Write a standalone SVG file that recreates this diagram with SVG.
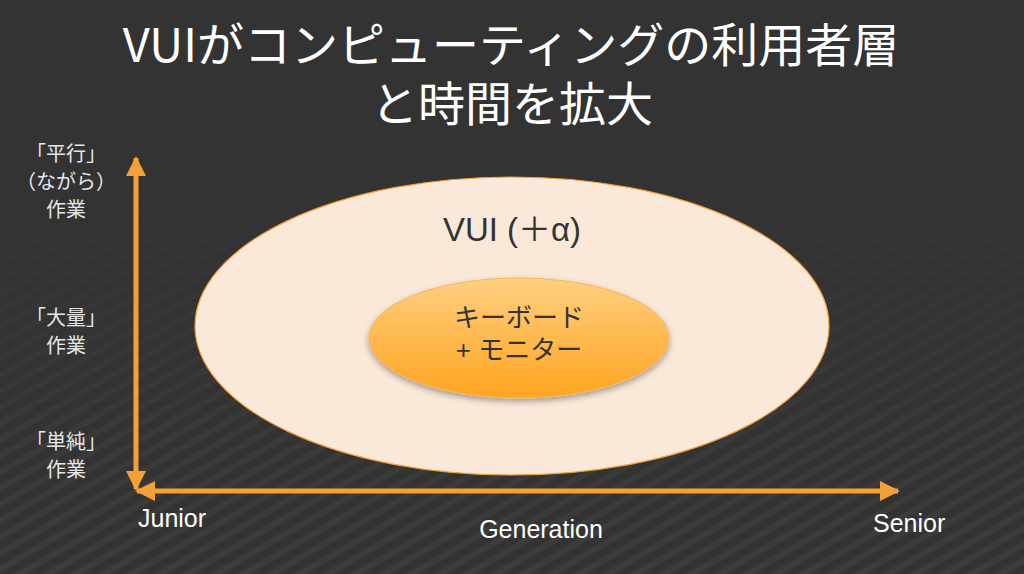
<svg xmlns="http://www.w3.org/2000/svg" width="1024" height="574" viewBox="0 0 1024 574">
<style>
.t{font-family:"Noto Sans CJK JP","Liberation Sans",sans-serif;fill:#ffffff;text-anchor:middle}
.l{font-family:"Noto Sans CJK JP","Liberation Sans",sans-serif;fill:#e6e6e6;text-anchor:middle;font-size:20px}
.e{font-family:"Liberation Sans","Noto Sans CJK JP",sans-serif;fill:#ffffff;font-size:25px}
.d{font-family:"Liberation Sans","Noto Sans CJK JP",sans-serif;fill:#333333;text-anchor:middle}
.ax{stroke:#F4A038;stroke-width:5;fill:none}
</style>
<defs>
<pattern id="stripes" width="14" height="14" patternUnits="userSpaceOnUse" patternTransform="rotate(-30)">
<rect width="14" height="14" fill="#333333"/>
<rect y="0" width="14" height="6" fill="#3d3d3d"/>
</pattern>
<linearGradient id="fade" x1="0" y1="0" x2="0" y2="1">
<stop offset="0.3" stop-color="#fff" stop-opacity="0"/>
<stop offset="1" stop-color="#fff" stop-opacity="1"/>
</linearGradient>
<mask id="m"><rect width="1024" height="574" fill="url(#fade)"/></mask>
<linearGradient id="inner" x1="0" y1="0" x2="0" y2="1">
<stop offset="0" stop-color="#FFCF80"/>
<stop offset="1" stop-color="#FFA41F"/>
</linearGradient>
<filter id="sh" x="-20%" y="-20%" width="140%" height="150%">
<feDropShadow dx="0" dy="3" stdDeviation="3" flood-color="#000" flood-opacity="0.35"/>
</filter>
<marker id="ah" viewBox="0 0 10 10" refX="9" refY="5" markerWidth="4.4" markerHeight="4" orient="auto-start-reverse" markerUnits="strokeWidth">
<path d="M0,0 L10,5 L0,10 z" fill="#F4A038"/>
</marker>
</defs>
<rect width="1024" height="574" fill="#333333"/>
<rect width="1024" height="574" fill="url(#stripes)" mask="url(#m)"/>

<g id="title">
<text class="t" x="511" y="62" font-size="47">VUIがコンピューティングの利用者層</text>
<text class="t" x="512" y="121" font-size="47">と時間を拡大</text>
</g>

<g id="outer">
<ellipse cx="512" cy="326" rx="317" ry="149" fill="#FAE8D8" stroke="#F4A038" stroke-width="1.2"/>
<text class="d" x="512" y="241" font-size="33">VUI (＋α)</text>
</g>

<g id="inner-node">
<ellipse cx="519" cy="338" rx="150" ry="60" fill="url(#inner)" stroke="#F7B460" stroke-width="1" filter="url(#sh)"/>
<text class="d" x="519" y="327" font-size="26">キーボード</text>
<text class="d" x="519" y="359" font-size="26">+ モニター</text>
</g>

<g id="connectors">
<line class="ax" x1="136" y1="489" x2="136" y2="158" marker-start="url(#ah)" marker-end="url(#ah)"/>
<line class="ax" x1="137" y1="491" x2="898" y2="491" marker-start="url(#ah)" marker-end="url(#ah)"/>
</g>

<g id="ylabels">
<text class="l" x="66" y="161">「平行」</text>
<text class="l" x="66" y="189">（ながら）</text>
<text class="l" x="66" y="217">作業</text>
<text class="l" x="66" y="325">「大量」</text>
<text class="l" x="66" y="353">作業</text>
<text class="l" x="66" y="449">「単純」</text>
<text class="l" x="66" y="477">作業</text>
</g>

<g id="xlabels">
<text class="e" x="138" y="527">Junior</text>
<text class="e" x="541" y="538" text-anchor="middle">Generation</text>
<text class="e" x="873" y="532">Senior</text>
</g>
</svg>
